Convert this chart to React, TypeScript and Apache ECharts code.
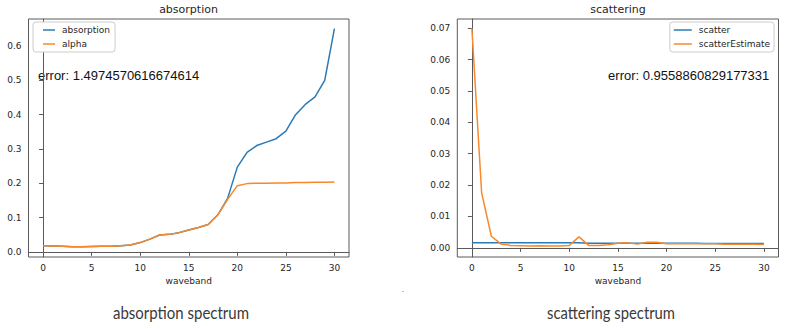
import React, { useEffect, useRef } from "react";
import * as echarts from "echarts";

const waveband = [0, 1, 2, 3, 4, 5, 6, 7, 8, 9, 10, 11, 12, 13, 14, 15, 16, 17, 18, 19, 20, 21, 22, 23, 24, 25, 26, 27, 28, 29, 30];
const absorption = [0.018, 0.017, 0.016, 0.015, 0.015, 0.0155, 0.016, 0.016, 0.018, 0.02, 0.027, 0.037, 0.049, 0.051, 0.056, 0.064, 0.071, 0.08, 0.108, 0.156, 0.247, 0.29, 0.31, 0.32, 0.33, 0.352, 0.4, 0.43, 0.452, 0.5, 0.651];
const alpha = [0.018, 0.017, 0.016, 0.015, 0.015, 0.0155, 0.016, 0.016, 0.018, 0.02, 0.027, 0.037, 0.049, 0.051, 0.056, 0.064, 0.071, 0.08, 0.108, 0.153, 0.193, 0.199, 0.2, 0.2, 0.201, 0.201, 0.202, 0.202, 0.203, 0.203, 0.204];
const scatter = [0.0016, 0.0016, 0.0016, 0.0016, 0.0016, 0.0016, 0.0016, 0.0016, 0.0016, 0.0016, 0.0016, 0.0016, 0.0015, 0.0015, 0.0015, 0.0015, 0.0015, 0.0015, 0.0015, 0.0015, 0.0015, 0.0015, 0.0015, 0.0015, 0.0014, 0.0014, 0.0014, 0.0014, 0.0014, 0.0014, 0.0014];
const scatterEstimate = [0.0699, 0.0175, 0.0037, 0.0012, 0.0008, 0.0007, 0.0006, 0.0007, 0.0006, 0.0006, 0.0008, 0.0035, 0.0008, 0.0008, 0.001, 0.0015, 0.0016, 0.0012, 0.0018, 0.0018, 0.0013, 0.0013, 0.0013, 0.0013, 0.0013, 0.0013, 0.0012, 0.0012, 0.0012, 0.0012, 0.0011];

const xTicks = [0, 5, 10, 15, 20, 25, 30];
const absTicks = [0, 0.1, 0.2, 0.3, 0.4, 0.5, 0.6];
const scatTicks = [0, 0.01, 0.02, 0.03, 0.04, 0.05, 0.06, 0.07];

const titles = ["absorption", "scattering"];
const errorTexts = ["error: 1.4974570616674614", "error: 0.9558860829177331"];
const captions = ["absorption spectrum", "scattering spectrum"];
const xName = "waveband";

const BLUE = "#2a7bb5";
const ORANGE = "#f8882a";
const TXT = "#262626";
const FRAME = "#5a5a5a";

function measure(text: string, font: string): number {
  const c = document.createElement("canvas");
  const ctx = c.getContext("2d");
  if (!ctx) return 100;
  ctx.font = font;
  return ctx.measureText(text).width;
}

export default function App() {
  const ref = useRef<HTMLDivElement>(null);
  useEffect(() => {
    if (!ref.current) return;
    const chart = echarts.init(ref.current, null, { renderer: "svg" });

    const xAxisBase = (gridIndex: number) => ({
      type: "value" as const,
      gridIndex,
      min: -1.5,
      max: 31.5,
      name: xName,
      nameLocation: "middle" as const,
      nameGap: 18,
      nameTextStyle: { fontFamily: "DejaVu Sans", fontSize: 9, color: TXT },
      splitLine: { show: false },
      axisLine: { show: true, lineStyle: { color: FRAME, width: 1 } },
      axisTick: { show: true, length: 4, lineStyle: { color: FRAME }, customValues: xTicks },
      axisLabel: {
        fontFamily: "DejaVu Sans",
        fontSize: 9,
        color: TXT,
        margin: 6,
        customValues: xTicks,
        formatter: (v: number) => String(v),
      },
    });

    const yAxisBase = (gridIndex: number, min: number, max: number, ticks: number[], dec: number) => ({
      type: "value" as const,
      gridIndex,
      min,
      max,
      splitLine: { show: false },
      axisLine: { show: true, lineStyle: { color: FRAME, width: 1 } },
      axisTick: { show: true, length: 4, lineStyle: { color: FRAME }, customValues: ticks },
      axisLabel: {
        fontFamily: "DejaVu Sans",
        fontSize: 9,
        color: TXT,
        margin: 7,
        customValues: ticks,
        formatter: (v: number) => v.toFixed(dec),
      },
    });

    const capFont = "17px Lato";
    const capW = [136, 128];
    const capScale = captions.map((c, i) => capW[i] / measure(c, capFont));

    const line = (name: string, data: number[], color: string, idx: number) => ({
      type: "line" as const,
      name,
      xAxisIndex: idx,
      yAxisIndex: idx,
      data: waveband.map((x, i) => [x, data[i]]),
      symbol: "none",
      lineStyle: { color, width: 1.5 },
      itemStyle: { color },
      silent: true,
    });

    const legendBase = {
      orient: "vertical" as const,
      top: 22,
      itemGap: 4,
      icon: "rect",
      itemHeight: 1.5,
      borderColor: "#cccccc",
      borderWidth: 1,
      borderRadius: 3,
      backgroundColor: "#ffffff",
      selectedMode: false,
      textStyle: { fontFamily: "DejaVu Sans", fontSize: 9, lineHeight: 10, color: TXT, padding: [0, 0, 0, 2] },
    };

    chart.setOption({
      animation: false,
      backgroundColor: "#ffffff",
      grid: [
        { left: 28.5, top: 19, width: 320.5, height: 238, show: true, borderColor: FRAME, borderWidth: 1, backgroundColor: "transparent" },
        { left: 457.3, top: 19, width: 321.2, height: 238, show: true, borderColor: FRAME, borderWidth: 1, backgroundColor: "transparent" },
      ],
      xAxis: [xAxisBase(0), xAxisBase(1)],
      yAxis: [
        yAxisBase(0, -0.015, 0.679, absTicks, 1),
        yAxisBase(1, -0.0029, 0.0729, scatTicks, 2),
      ],
      legend: [
        { ...legendBase, data: ["absorption", "alpha"], left: 33, itemWidth: 12, padding: [3, 5, 3, 10] },
        { ...legendBase, data: ["scatter", "scatterEstimate"], right: 26, itemWidth: 18, padding: [3, 4, 3, 4] },
      ],
      series: [
        line("absorption", absorption, BLUE, 0),
        line("alpha", alpha, ORANGE, 0),
        line("scatter", scatter, BLUE, 1),
        line("scatterEstimate", scatterEstimate, ORANGE, 1),
      ],
      graphic: [
        { type: "text", x: 188.5, y: 9, style: { text: titles[0], font: "11px 'DejaVu Sans'", fill: TXT, align: "center", verticalAlign: "middle" } },
        { type: "text", x: 618, y: 9, style: { text: titles[1], font: "11px 'DejaVu Sans'", fill: TXT, align: "center", verticalAlign: "middle" } },
        { type: "text", x: 38, y: 75, style: { text: errorTexts[0], font: "13px 'Liberation Sans'", fill: "#111", align: "left", verticalAlign: "middle" } },
        { type: "text", x: 769.3, y: 75, style: { text: errorTexts[1], font: "13px 'Liberation Sans'", fill: "#111", align: "right", verticalAlign: "middle" } },
        { type: "text", x: 181, y: 312, scaleX: capScale[0], style: { text: captions[0], font: capFont, fill: "#3a3a3a", align: "center", verticalAlign: "middle" } },
        { type: "text", x: 611, y: 312, scaleX: capScale[1], style: { text: captions[1], font: capFont, fill: "#3a3a3a", align: "center", verticalAlign: "middle" } },
        { type: "rect", shape: { x: 402, y: 291, width: 2, height: 1 }, style: { fill: "#b8c8b0" } },
      ],
    });
    return () => chart.dispose();
  }, []);
  return <div ref={ref} style={{ position: "fixed", left: 0, top: 0, width: 800, height: 329 }} />;
}
